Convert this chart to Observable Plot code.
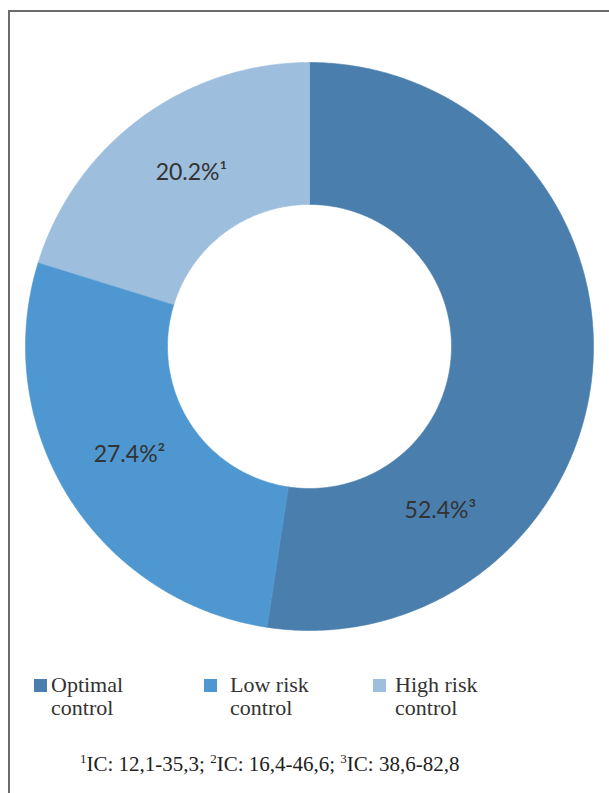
<!DOCTYPE html>
<html>
<head>
<meta charset="utf-8">
<script src="https://cdn.jsdelivr.net/npm/d3@7"></script>
<script src="https://cdn.jsdelivr.net/npm/@observablehq/plot@0.6"></script>
<style>
  body { margin: 0; background: #fff; }
  #page { position: relative; width: 609px; height: 793px; overflow: hidden; }
  #frame { position: absolute; left: 8px; top: 10px; width: 640px; height: 820px;
           border-top: 2px solid #6b6b6b; border-left: 2px solid #6b6b6b; }
  #chart { position: absolute; left: 0; top: 0; }
  .leg { position: absolute; top: 673px; font-family: "Liberation Serif", "DejaVu Serif", serif;
         font-size: 22px; line-height: 23px; color: #333; width: 110px; }
  .sw { position: absolute; top: 679px; width: 13px; height: 13px; }
  #caption { position: absolute; left: 80px; top: 753px; font-family: "Liberation Serif", "DejaVu Serif", serif;
             font-size: 21px; line-height: 23px; color: #222; white-space: nowrap; }
  #caption sup { font-size: 13px; vertical-align: 8px; line-height: 0; }
</style>
</head>
<body>
<div id="page">
  <div id="frame"></div>
  <div id="chart"></div>
  <div id="caption"></div>
</div>
<script>
// ---- data ----
const categories = ["Optimal control", "Low risk control", "High risk control"];
const percents = [52.4, 27.4, 20.2];
const sliceLabels = ["52.4%\u00B3", "27.4%\u00B2", "20.2%\u00B9"];
const colors = ["#4a7eac", "#4f97d0", "#9dbedd"];
const captionParts = [["1", "IC: 12,1-35,3; "], ["2", "IC: 16,4-46,6; "], ["3", "IC: 38,6-82,8"]];

// ---- layout (not data) ----
const innerFrac = 0.5;               // inner radius / outer radius
const labelRadius = 0.74;            // label distance from centre (fraction of outer radius)
const labelAlong = [0.75, 0.51, 0.53]; // where along each slice the label sits
const swatchX = [34, 204, 373];
const textX = [51, 230, 395];

// angles from d3.pie (clockwise from 12 o'clock)
const arcs = d3.pie().sort(null).value(d => d)(percents);

const polyPts = [];
arcs.forEach((a, i) => {
  const n = Math.max(20, Math.ceil((a.endAngle - a.startAngle) * 120));
  for (let k = 0; k <= n; k++) {
    const t = a.startAngle + (a.endAngle - a.startAngle) * k / n;
    polyPts.push({cat: categories[i], x: Math.sin(t), y: Math.cos(t)});
  }
  for (let k = n; k >= 0; k--) {
    const t = a.startAngle + (a.endAngle - a.startAngle) * k / n;
    polyPts.push({cat: categories[i], x: innerFrac * Math.sin(t), y: innerFrac * Math.cos(t)});
  }
});

const labelPts = arcs.map((a, i) => {
  const t = a.startAngle + (a.endAngle - a.startAngle) * labelAlong[i];
  return {label: sliceLabels[i], x: labelRadius * Math.sin(t), y: labelRadius * Math.cos(t)};
});

const chart = Plot.plot({
  width: 609,
  height: 650,
  marginLeft: 25,
  marginRight: 16,
  marginTop: 62,
  marginBottom: 20,
  x: {domain: [-1, 1], axis: null},
  y: {domain: [-1, 1], axis: null},
  color: {domain: categories, range: colors},
  style: {background: "transparent", overflow: "visible"},
  marks: [
    Plot.line(polyPts, {x: "x", y: "y", z: "cat", fill: "cat", stroke: "cat", strokeWidth: 0.6, curve: "linear-closed"}),
    Plot.text(labelPts, {x: "x", y: "y", text: "label", fill: "#333", fontSize: 23,
      fontFamily: "Lato, 'Open Sans', sans-serif", textAnchor: "middle"})
  ]
});
document.getElementById("chart").appendChild(chart);

// legend (HTML, below the SVG)
const page = document.getElementById("page");
categories.forEach((c, i) => {
  const sw = document.createElement("div");
  sw.className = "sw";
  sw.style.left = swatchX[i] + "px";
  sw.style.background = colors[i];
  page.appendChild(sw);
  const t = document.createElement("div");
  t.className = "leg";
  t.style.left = textX[i] + "px";
  t.textContent = c;
  page.appendChild(t);
});

// caption
const cap = document.getElementById("caption");
captionParts.forEach(([s, txt]) => {
  const sup = document.createElement("sup");
  sup.textContent = s;
  cap.appendChild(sup);
  cap.appendChild(document.createTextNode(txt));
});
</script>
</body>
</html>
